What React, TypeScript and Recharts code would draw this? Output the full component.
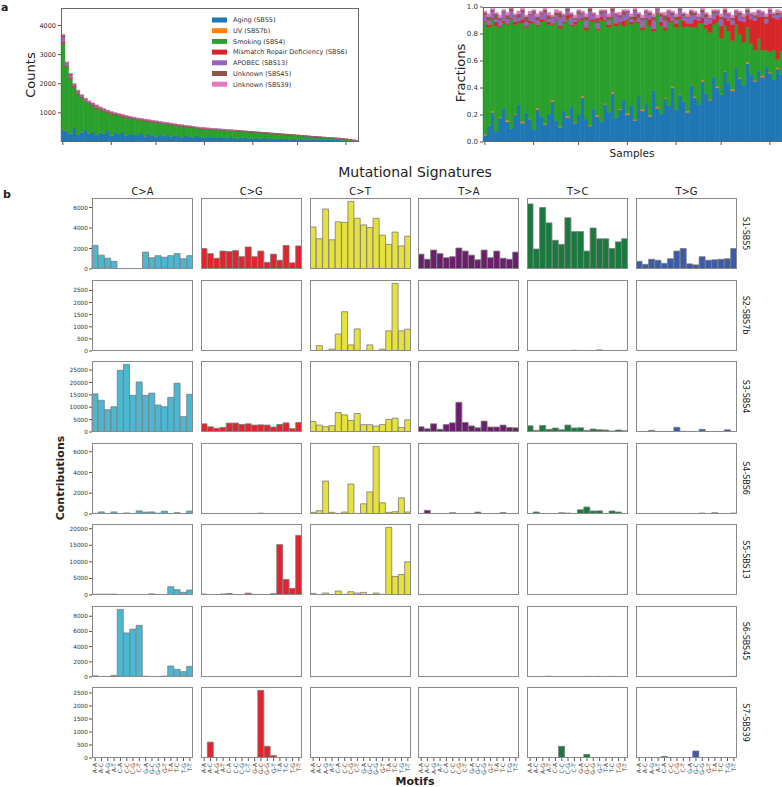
import React from 'react'
import { BarChart, Bar, XAxis, YAxis } from 'recharts'

// ---------- panel a ----------
const signatureLabels = [
  'Aging (SBS5)',
  'UV (SBS7b)',
  'Smoking (SBS4)',
  'Mismatch Repair Deficiency (SBS6)',
  'APOBEC (SBS13)',
  'Unknown (SBS45)',
  'Unknown (SBS39)',
]
const signatureKeys = ['aging', 'uv', 'smoking', 'mmr', 'apobec', 'sbs45', 'sbs39']
const signatureColors = ['#1f77b4', '#ff7f0e', '#2ca02c', '#d62728', '#9467bd', '#8c564b', '#e377c2']

// counts per sample, samples sorted by total
const cAging = [420, 380, 300, 520, 260, 340, 410, 290, 360, 250, 330, 280, 400, 230, 310, 270, 350, 220, 300, 260,
  240, 310, 200, 280, 230, 190, 260, 210, 240, 180, 230, 200, 170, 220, 190, 160, 210, 180, 150, 190,
  170, 140, 180, 160, 130, 170, 150, 120, 160, 140, 130, 110, 150, 120, 140, 100, 130, 110, 120, 100,
  110, 95, 120, 90, 100, 85, 95, 80, 90, 75, 85, 70, 80, 65, 70, 60, 55, 50, 40, 25]
const cUV = [10, 5, 5, 5, 0, 5, 0, 5, 0, 0, 5, 0, 0, 5, 0, 0, 0, 3, 0, 0,
  0, 0, 2, 0, 0, 0, 0, 2, 0, 0, 0, 0, 1, 0, 0, 0, 0, 1, 0, 0,
  0, 0, 0, 0, 0, 0, 0, 0, 0, 0, 0, 0, 0, 0, 0, 0, 0, 0, 0, 0,
  0, 0, 0, 0, 0, 0, 0, 0, 0, 0, 0, 0, 0, 0, 0, 0, 0, 0, 0, 0]
const cSmoking = [2950, 2200, 1875, 1350, 1390, 1170, 990, 1025, 885, 887, 796, 772, 616, 720, 616, 630, 526, 612, 516, 530,
  518, 438, 526, 429, 453, 488, 389, 416, 378, 417, 346, 362, 375, 309, 321, 338, 267, 278, 306, 254,
  264, 289, 235, 250, 267, 222, 228, 254, 200, 216, 213, 226, 174, 198, 166, 198, 157, 169, 149, 161,
  140, 147, 110, 133, 110, 116, 96, 102, 81, 87, 68, 77, 60, 68, 53, 52, 43, 33, 23, 12]
const cMMR = [60, 40, 30, 45, 25, 35, 20, 30, 25, 40, 20, 30, 25, 15, 30, 20, 25, 15, 20, 18,
  15, 20, 12, 18, 15, 12, 16, 10, 14, 12, 10, 14, 10, 12, 9, 11, 8, 10, 9, 8,
  10, 8, 9, 7, 8, 7, 9, 6, 8, 6, 7, 6, 7, 5, 6, 5, 6, 5, 5, 4,
  5, 4, 5, 4, 4, 3, 4, 3, 4, 3, 3, 3, 3, 2, 3, 2, 2, 2, 2, 1]
const cAPOBEC = [150, 90, 70, 60, 55, 50, 45, 42, 40, 38, 36, 34, 33, 31, 30, 29, 28, 27, 26, 25,
  25, 24, 23, 23, 22, 22, 21, 20, 20, 19, 19, 18, 18, 17, 17, 16, 16, 15, 15, 14,
  14, 14, 13, 13, 13, 12, 12, 12, 12, 11, 11, 11, 10, 10, 10, 10, 9, 9, 9, 8,
  8, 8, 8, 7, 7, 7, 6, 6, 6, 6, 5, 5, 5, 5, 4, 4, 4, 3, 3, 2]
const cSBS45 = [80, 20, 60, 10, 40, 15, 30, 10, 25, 50, 8, 20, 12, 35, 10, 18, 8, 25, 10, 14,
  20, 6, 15, 8, 18, 6, 12, 20, 6, 10, 14, 5, 10, 6, 12, 4, 8, 10, 4, 8,
  6, 3, 7, 4, 6, 3, 5, 3, 5, 2, 4, 2, 4, 2, 3, 2, 3, 2, 2, 2,
  2, 1, 2, 1, 1, 1, 1, 1, 1, 1, 1, 0, 0, 0, 0, 0, 0, 0, 0, 0]
const cSBS39 = [30, 15, 10, 10, 10, 5, 5, 8, 5, 5, 5, 4, 4, 4, 4, 3, 3, 3, 3, 3,
  2, 2, 2, 2, 2, 2, 2, 2, 2, 2, 1, 1, 1, 1, 1, 1, 1, 1, 1, 1,
  1, 1, 1, 1, 1, 1, 1, 0, 0, 0, 0, 0, 0, 0, 0, 0, 0, 0, 0, 0,
  0, 0, 0, 0, 0, 0, 0, 0, 0, 0, 0, 0, 0, 0, 0, 0, 0, 0, 0, 0]
const countTicks = [1000, 2000, 3000, 4000]

// fractions per sample
const fAging = [0.05, 0.12, 0.22, 0.08, 0.18, 0.25, 0.15, 0.10, 0.20, 0.28, 0.14, 0.22, 0.17, 0.09, 0.24, 0.19, 0.13, 0.21, 0.30, 0.16,
  0.11, 0.23, 0.18, 0.26, 0.14, 0.20, 0.33, 0.17, 0.12, 0.25, 0.19, 0.15, 0.28, 0.22, 0.36, 0.18, 0.24, 0.31, 0.20, 0.27,
  0.16, 0.34, 0.23, 0.29, 0.19, 0.38, 0.25, 0.21, 0.32, 0.27, 0.40, 0.24, 0.35, 0.30, 0.22, 0.42, 0.33, 0.28, 0.45, 0.36,
  0.31, 0.48, 0.40, 0.35, 0.52, 0.44, 0.38, 0.55, 0.47, 0.42, 0.58, 0.50, 0.45, 0.53, 0.48, 0.56, 0.51, 0.46, 0.54, 0.50]
const fUV = [0.005, 0, 0.01, 0, 0.005, 0, 0.01, 0, 0.005, 0, 0.01, 0, 0.005, 0, 0.01, 0, 0.005, 0, 0.01, 0,
  0.005, 0, 0.01, 0, 0.005, 0, 0.01, 0, 0.005, 0, 0.01, 0, 0.005, 0, 0.01, 0, 0.005, 0, 0.01, 0,
  0.005, 0, 0.01, 0, 0.005, 0, 0.01, 0, 0.005, 0, 0.01, 0, 0.005, 0, 0.01, 0, 0.005, 0, 0.01, 0,
  0.005, 0, 0.01, 0, 0.005, 0, 0.01, 0, 0.005, 0, 0.01, 0, 0.005, 0, 0.01, 0, 0.005, 0, 0.01, 0]
const fSmoking = [0.835, 0.73, 0.68, 0.78, 0.665, 0.63, 0.71, 0.81, 0.665, 0.61, 0.73, 0.63, 0.705, 0.79, 0.61, 0.70, 0.765, 0.66, 0.56, 0.74,
  0.725, 0.65, 0.72, 0.60, 0.725, 0.70, 0.57, 0.66, 0.775, 0.64, 0.63, 0.75, 0.615, 0.63, 0.55, 0.68, 0.635, 0.55, 0.69, 0.60,
  0.735, 0.54, 0.59, 0.62, 0.665, 0.44, 0.69, 0.65, 0.505, 0.62, 0.48, 0.61, 0.555, 0.55, 0.63, 0.43, 0.515, 0.60, 0.42, 0.48,
  0.495, 0.39, 0.48, 0.42, 0.335, 0.38, 0.36, 0.32, 0.325, 0.32, 0.26, 0.23, 0.225, 0.24, 0.19, 0.12, 0.155, 0.22, 0.06, 0.17]
const fMMR = [0.01, 0.02, 0.01, 0.03, 0.01, 0.02, 0.01, 0.01, 0.02, 0.01, 0.03, 0.01, 0.02, 0.01, 0.01, 0.02, 0.01, 0.02, 0.01, 0.01,
  0.02, 0.01, 0.03, 0.01, 0.02, 0.01, 0.01, 0.02, 0.01, 0.02, 0.01, 0.03, 0.01, 0.02, 0.01, 0.02, 0.01, 0.04, 0.01, 0.02,
  0.03, 0.01, 0.02, 0.01, 0.05, 0.02, 0.01, 0.03, 0.02, 0.04, 0.01, 0.03, 0.02, 0.05, 0.02, 0.03, 0.06, 0.02, 0.04, 0.03,
  0.07, 0.04, 0.05, 0.09, 0.06, 0.08, 0.12, 0.07, 0.10, 0.15, 0.09, 0.18, 0.22, 0.16, 0.25, 0.20, 0.28, 0.24, 0.30, 0.26]
const fAPOBEC = [0.04, 0.03, 0.05, 0.02, 0.04, 0.06, 0.03, 0.05, 0.04, 0.02, 0.05, 0.03, 0.04, 0.06, 0.03, 0.04, 0.05, 0.02, 0.04, 0.03,
  0.06, 0.04, 0.03, 0.05, 0.02, 0.04, 0.03, 0.05, 0.06, 0.03, 0.04, 0.02, 0.05, 0.03, 0.04, 0.06, 0.03, 0.04, 0.05, 0.02,
  0.04, 0.03, 0.05, 0.04, 0.03, 0.06, 0.02, 0.04, 0.05, 0.03, 0.04, 0.02, 0.05, 0.03, 0.04, 0.06, 0.03, 0.02, 0.04, 0.05,
  0.03, 0.04, 0.02, 0.05, 0.03, 0.04, 0.03, 0.02, 0.04, 0.03, 0.02, 0.03, 0.02, 0.03, 0.02, 0.03, 0.02, 0.02, 0.03, 0.02]
const fSBS45 = [0.02, 0.03, 0.01, 0.04, 0.02, 0.01, 0.03, 0.02, 0.01, 0.03, 0.02, 0.04, 0.01, 0.02, 0.03, 0.01, 0.02, 0.03, 0.01, 0.02,
  0.04, 0.01, 0.02, 0.03, 0.01, 0.02, 0.01, 0.03, 0.02, 0.01, 0.04, 0.02, 0.01, 0.03, 0.02, 0.01, 0.02, 0.03, 0.01, 0.02,
  0.01, 0.03, 0.02, 0.01, 0.02, 0.03, 0.01, 0.02, 0.04, 0.01, 0.02, 0.03, 0.01, 0.02, 0.01, 0.03, 0.02, 0.01, 0.02, 0.03,
  0.01, 0.02, 0.01, 0.02, 0.03, 0.01, 0.02, 0.01, 0.02, 0.01, 0.02, 0.01, 0.02, 0.01, 0.01, 0.02, 0.01, 0.01, 0.02, 0.01]
const fSBS39 = [0.01, 0.02, 0.01, 0.01, 0.02, 0.01, 0.02, 0.01, 0.01, 0.02, 0.01, 0.01, 0.02, 0.01, 0.02, 0.01, 0.01, 0.02, 0.01, 0.02,
  0.01, 0.01, 0.02, 0.01, 0.02, 0.01, 0.01, 0.02, 0.01, 0.01, 0.02, 0.01, 0.01, 0.02, 0.01, 0.01, 0.02, 0.01, 0.01, 0.02,
  0.01, 0.01, 0.02, 0.01, 0.01, 0.02, 0.01, 0.01, 0.02, 0.01, 0.01, 0.02, 0.01, 0.01, 0.02, 0.01, 0.01, 0.02, 0.01, 0.01,
  0.02, 0.01, 0.01, 0.02, 0.01, 0.01, 0.02, 0.01, 0.01, 0.02, 0.01, 0.01, 0.02, 0.01, 0.01, 0.02, 0.01, 0.01, 0.02, 0.01]
const fractionTicks = [0, 0.2, 0.4, 0.6, 0.8, 1.0]
const sampleTicks = [0, 13, 25, 38, 51, 63, 76]

// ---------- panel b ----------
const mutationTypes = ['C>A', 'C>G', 'C>T', 'T>A', 'T>C', 'T>G']
const typeColors = ['#48b8d3', '#e3242f', '#e6e23b', '#6c1d6d', '#187a3c', '#3a5ba9']
const motifs = ['A-A', 'A-C', 'A-G', 'A-T', 'C-A', 'C-C', 'C-G', 'C-T', 'G-A', 'G-C', 'G-G', 'G-T', 'T-A', 'T-C', 'T-G', 'T-T']
const signatureRows = ['S1-SBS5', 'S2-SBS7b', 'S3-SBS4', 'S4-SBS6', 'S5-SBS13', 'S6-SBS45', 'S7-SBS39']

// each row: C>A, C>G, C>T, T>A, T>C, T>G
const S1_SBS5 = [
  [2300, 1350, 1050, 750, 0, 0, 0, 0, 1650, 1100, 1300, 1150, 1300, 1500, 1000, 1300],
  [2000, 1500, 1050, 1750, 1700, 1800, 1200, 2150, 1200, 1750, 650, 1450, 850, 2300, 600, 2250],
  [4100, 2950, 5850, 2850, 4600, 4550, 6600, 4950, 4300, 4050, 4950, 3300, 2400, 3600, 2250, 3200],
  [1450, 950, 1850, 1500, 1100, 1200, 2050, 1750, 1350, 900, 1850, 1100, 1750, 1050, 950, 1650],
  [6350, 1950, 6000, 4500, 2800, 2400, 5000, 3650, 3650, 1750, 4000, 2950, 2950, 2000, 2650, 2950],
  [750, 450, 950, 850, 550, 1000, 1750, 2000, 500, 400, 1200, 850, 900, 950, 1000, 2000],
]
const S2_SBS7b = [
  [0, 0, 0, 0, 0, 0, 0, 0, 0, 0, 0, 0, 0, 0, 0, 0],
  [0, 0, 0, 0, 0, 0, 0, 0, 0, 0, 0, 0, 0, 0, 0, 0],
  [20, 220, 10, 80, 700, 1620, 250, 910, 20, 250, 20, 80, 830, 2790, 830, 900],
  [0, 0, 0, 15, 0, 0, 0, 0, 0, 0, 0, 0, 0, 0, 0, 15],
  [0, 0, 0, 0, 0, 0, 0, 30, 0, 0, 0, 45, 0, 0, 0, 0],
  [0, 0, 20, 0, 0, 0, 0, 0, 0, 0, 20, 0, 0, 0, 0, 0],
]
const S3_SBS4 = [
  [15400, 12800, 9000, 10200, 24900, 27300, 14800, 20200, 14800, 15700, 10900, 10200, 14000, 19700, 6200, 15200],
  [3300, 2100, 1500, 1850, 3600, 3600, 3050, 3300, 2800, 2900, 2800, 2000, 3050, 3700, 1350, 3850],
  [4250, 2800, 2150, 2550, 7850, 6900, 4650, 7450, 2950, 2950, 2400, 3050, 5050, 5600, 1850, 4900],
  [2100, 1300, 3300, 1100, 3000, 3700, 12000, 3850, 2450, 1700, 4400, 2000, 2000, 2800, 1850, 1700],
  [2500, 650, 2650, 1050, 1600, 900, 2800, 1600, 1700, 650, 1200, 900, 800, 400, 800, 500],
  [100, 80, 650, 100, 80, 100, 1900, 300, 100, 80, 1100, 100, 80, 100, 900, 100],
]
const S4_SBS6 = [
  [60, 200, 50, 200, 40, 100, 40, 300, 180, 200, 80, 270, 40, 130, 40, 280],
  [0, 0, 0, 0, 0, 0, 0, 0, 0, 80, 0, 0, 0, 0, 0, 0],
  [160, 320, 3170, 160, 60, 190, 2890, 60, 980, 2130, 6510, 1080, 160, 220, 1560, 190],
  [40, 350, 20, 20, 20, 120, 20, 20, 20, 180, 20, 20, 20, 130, 20, 20],
  [30, 190, 20, 20, 30, 120, 90, 40, 410, 670, 290, 300, 50, 290, 190, 30],
  [30, 40, 30, 50, 40, 40, 30, 30, 30, 40, 90, 30, 120, 30, 40, 90],
]
const S5_SBS13 = [
  [250, 250, 250, 250, 30, 30, 30, 30, 150, 350, 150, 100, 2500, 1600, 800, 1500],
  [300, 100, 150, 300, 450, 100, 150, 550, 200, 100, 100, 400, 15200, 4700, 2000, 18000],
  [500, 100, 600, 100, 1200, 200, 1000, 600, 800, 100, 600, 200, 20400, 5600, 6200, 10000],
  [30, 30, 30, 30, 30, 80, 80, 80, 30, 30, 30, 30, 30, 80, 30, 80],
  [80, 80, 30, 30, 30, 30, 30, 80, 30, 80, 30, 80, 30, 30, 30, 30],
  [80, 30, 30, 30, 30, 30, 80, 80, 80, 80, 30, 30, 30, 30, 30, 80],
]
const S6_SBS45 = [
  [150, 30, 20, 200, 8900, 5800, 6300, 6800, 100, 30, 20, 120, 1450, 1000, 700, 1400],
  [0, 0, 0, 0, 60, 0, 60, 60, 0, 0, 0, 0, 60, 0, 0, 0],
  [0, 60, 60, 0, 0, 0, 0, 60, 0, 60, 0, 0, 0, 0, 0, 0],
  [0, 0, 0, 0, 0, 0, 0, 0, 0, 0, 0, 0, 0, 0, 0, 0],
  [0, 0, 0, 100, 0, 0, 0, 0, 0, 80, 0, 80, 0, 80, 0, 0],
  [0, 0, 0, 0, 0, 0, 0, 0, 0, 0, 0, 0, 0, 0, 0, 80],
]
const S7_SBS39 = [
  [0, 0, 0, 0, 0, 0, 0, 0, 0, 0, 0, 0, 0, 0, 0, 0],
  [0, 610, 0, 0, 0, 0, 0, 0, 0, 2600, 450, 90, 0, 0, 0, 0],
  [0, 0, 0, 0, 0, 0, 0, 0, 0, 0, 0, 0, 0, 0, 0, 0],
  [0, 0, 0, 0, 0, 0, 0, 0, 0, 0, 0, 0, 0, 0, 0, 0],
  [0, 0, 0, 0, 0, 450, 0, 0, 0, 140, 0, 0, 0, 0, 0, 0],
  [0, 0, 0, 0, 60, 0, 0, 0, 0, 270, 0, 0, 0, 0, 0, 0],
]
const rowValues = [S1_SBS5, S2_SBS7b, S3_SBS4, S4_SBS6, S5_SBS13, S6_SBS45, S7_SBS39]
const rowMax = [6930, 2930, 28660, 6840, 21420, 9350, 2730]
const rowTicks = [
  [0, 2000, 4000, 6000],
  [0, 500, 1000, 1500, 2000, 2500],
  [0, 5000, 10000, 15000, 20000, 25000],
  [0, 2000, 4000, 6000],
  [0, 5000, 10000, 15000, 20000],
  [0, 2000, 4000, 6000, 8000],
  [0, 500, 1000, 1500, 2000, 2500],
]

// layout
const PW = 101
const PH = 71
const PAD = 5 // room above/below the plot so edge tick labels are not clipped
const colLeft = (c: number) => 92 + c * 108.8
const rowTop = (r: number) => 198 + r * 81.5
const noMargin = { top: 0, right: 0, bottom: 0, left: 0 }
const textColor = '#222'

const countData = cAging.map((v, i) => ({
  i, aging: v, uv: cUV[i], smoking: cSmoking[i], mmr: cMMR[i], apobec: cAPOBEC[i], sbs45: cSBS45[i], sbs39: cSBS39[i],
}))
const fractionData = fAging.map((v, i) => ({
  i, aging: v, uv: fUV[i], smoking: fSmoking[i], mmr: fMMR[i], apobec: fAPOBEC[i], sbs45: fSBS45[i], sbs39: fSBS39[i],
}))

const MotifTick = (props: any) => {
  const { x, y, payload } = props
  return (
    <text x={x + 2} y={y} transform={`rotate(-90, ${x + 2}, ${y})`} textAnchor="end" fontSize={6} fill="#444">
      {payload.value}
    </text>
  )
}

function MotifPanel({ r, c }: { r: number; c: number }) {
  const values = rowValues[r][c]
  const data = motifs.map((m, k) => ({ motif: m, v: values[k] }))
  const first = c === 0
  const last = r === rowValues.length - 1
  const yW = first ? 30 : 0
  const xH = last ? 20 : 0
  const bottomPad = last ? 0 : PAD
  return (
    <div style={{ position: 'absolute', left: colLeft(c) - yW, top: rowTop(r) - PAD }}>
      <BarChart width={PW + yW} height={PH + xH + PAD + bottomPad} data={data}
        margin={{ top: PAD, right: 0, bottom: bottomPad, left: 0 }} barCategoryGap={0}>
        <XAxis dataKey="motif" hide={!last} height={xH || 1} interval={0} tickSize={3}
          axisLine={false} tickLine={{ stroke: '#555' }} tick={MotifTick} />
        <YAxis hide={!first} width={yW || 1} type="number" domain={[0, rowMax[r]]} allowDataOverflow
          ticks={rowTicks[r]} interval={0} tickSize={3} tickMargin={1} axisLine={false}
          tickLine={{ stroke: '#555' }} tick={{ fill: '#333', fontSize: 5.8 }} />
        <Bar dataKey="v" fill={typeColors[c]} stroke="#7a7a7a" strokeWidth={0.8} isAnimationActive={false} />
      </BarChart>
    </div>
  )
}

const frame = (left: number, top: number, width: number, height: number, color: string) => (
  <div style={{
    position: 'absolute', left, top, width, height, boxSizing: 'border-box',
    border: `1.2px solid ${color}`, pointerEvents: 'none',
  }} />
)

export default function App() {
  return (
    <div style={{ position: 'absolute', left: 0, top: 0, width: 782, height: 787, background: '#fff', fontFamily: 'DejaVu Sans', overflow: 'hidden' }}>
      {/* counts */}
      <div style={{ position: 'absolute', left: 61 - 40, top: 8 }}>
        <BarChart width={298 + 40} height={134 + 6} data={countData} margin={noMargin} barCategoryGap={0} barGap={0}>
          <XAxis dataKey="i" ticks={sampleTicks} interval={0} tickFormatter={() => ''} tickSize={3} height={6}
            axisLine={false} tickLine={{ stroke: '#555' }} />
          <YAxis type="number" domain={[0, 4600]} allowDataOverflow ticks={countTicks} interval={0} width={40}
            tickSize={3} tickMargin={2} axisLine={false} tickLine={{ stroke: '#555' }} tick={{ fill: '#333', fontSize: 6.5 }} />
          {signatureKeys.map((k, j) => (
            <Bar key={k} dataKey={k} stackId="s" fill={signatureColors[j]} stroke={signatureColors[j]} strokeWidth={0.4} isAnimationActive={false} />
          ))}
        </BarChart>
      </div>
      {frame(61, 8, 298, 134, '#666')}

      {/* fractions */}
      <div style={{ position: 'absolute', left: 483 - 30, top: 7 - PAD }}>
        <BarChart width={300 + 30} height={135 + 6 + PAD} data={fractionData}
          margin={{ top: PAD, right: 0, bottom: 0, left: 0 }} barCategoryGap={0} barGap={0}>
          <XAxis dataKey="i" ticks={sampleTicks} interval={0} tickFormatter={() => ''} tickSize={3} height={6}
            axisLine={false} tickLine={{ stroke: '#555' }} />
          <YAxis type="number" domain={[0, 1]} allowDataOverflow ticks={fractionTicks} interval={0} width={30}
            tickSize={3} tickMargin={2} axisLine={false} tickLine={{ stroke: '#555' }}
            tick={{ fill: '#333', fontSize: 7 }} tickFormatter={(v: number) => v.toFixed(1)} />
          {signatureKeys.map((k, j) => (
            <Bar key={k} dataKey={k} stackId="s" fill={signatureColors[j]} stroke={signatureColors[j]} strokeWidth={0.4} isAnimationActive={false} />
          ))}
        </BarChart>
      </div>
      {frame(483, 7, 300, 135, '#666')}

      {/* panel b grid */}
      {signatureRows.map((_, r) => mutationTypes.map((__, c) => <MotifPanel key={`${r}-${c}`} r={r} c={c} />))}
      {signatureRows.map((_, r) => mutationTypes.map((__, c) => (
        <React.Fragment key={`f${r}-${c}`}>{frame(colLeft(c), rowTop(r), PW, PH, '#8a8a8a')}</React.Fragment>
      )))}

      {/* text layer */}
      <svg width={782} height={787} style={{ position: 'absolute', left: 0, top: 0, pointerEvents: 'none' }}>
        <text x={1} y={11} fontSize={11} fontWeight="bold" fill={textColor}>a</text>
        <text x={3} y={198} fontSize={11} fontWeight="bold" fill={textColor}>b</text>
        <text x={35} y={75} fontSize={13} fill={textColor} textAnchor="middle" transform="rotate(-90, 35, 75)">Counts</text>
        <text x={465} y={73} fontSize={13} fill={textColor} textAnchor="middle" transform="rotate(-90, 465, 73)">Fractions</text>
        <text x={632} y={157} fontSize={10.5} fill={textColor} textAnchor="middle">Samples</text>
        {signatureLabels.map((lab, j) => {
          const cy = 20 + j * 10.7
          return (
            <g key={lab}>
              <rect x={212} y={cy - 2.5} width={15} height={5} fill={signatureColors[j]} />
              <text x={233} y={cy + 2.3} fontSize={6.5} fill="#333">{lab}</text>
            </g>
          )
        })}
        <text x={415} y={177} fontSize={14} fill={textColor} textAnchor="middle">Mutational Signatures</text>
        {mutationTypes.map((t, c) => (
          <text key={t} x={colLeft(c) + PW / 2} y={195} fontSize={10} fill={textColor} textAnchor="middle">{t}</text>
        ))}
        {signatureRows.map((s, r) => {
          const cy = rowTop(r) + PH / 2
          return (
            <text key={s} x={743} y={cy} fontSize={8} fill={textColor} textAnchor="middle" transform={`rotate(90, 743, ${cy})`}>{s}</text>
          )
        })}
        <text x={64} y={478} fontSize={11} fontWeight="bold" fill={textColor} textAnchor="middle" transform="rotate(-90, 64, 478)">Contributions</text>
        <text x={415} y={785} fontSize={11} fontWeight="bold" fill={textColor} textAnchor="middle">Motifs</text>
      </svg>
    </div>
  )
}
